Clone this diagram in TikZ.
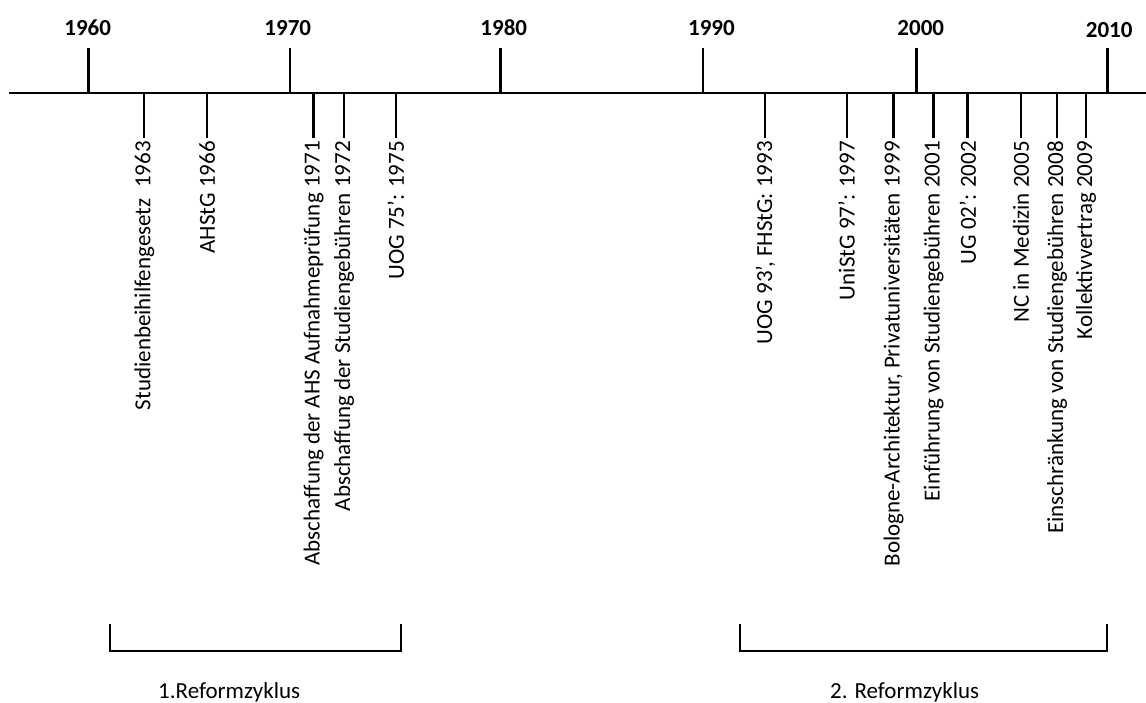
\documentclass[tikz,border=0pt]{standalone}
\usepackage{fontspec}
\setmainfont{Carlito}
\begin{document}
\begin{tikzpicture}[x=1pt,y=-1pt,
  yearlbl/.style={font=\fontsize{23}{27}\selectfont\bfseries, inner sep=0pt},
  evlbl/.style={font=\fontsize{23}{27}\selectfont, inner sep=0pt, rotate=90, anchor=east},
  cyclbl/.style={font=\fontsize{23}{27}\selectfont, inner sep=0pt, anchor=base west},
  axisline/.style={line width=1.6pt},
  bracketA/.style={line width=2pt, line join=miter},
  bracketB/.style={line width=2.7pt, line join=miter}]
\path[use as bounding box, fill=white] (0,0) rectangle (1146,702);

% axis
\coordinate (axL) at (9,93);
\coordinate (axR) at (1146,93);
\draw[axisline] (axL) -- (axR);

% year ticks and labels
\foreach \yr/\xx/\lx/\ly/\lw in {1960/88.5/87.7/28/3,1970/289.5/287.8/28/2,1980/500.5/503.8/28/3,1990/703/711.4/28/2,2000/916.4/920.8/28/2.4,2010/1107.4/1109.2/30/2.4}{
  \coordinate (yt\yr) at (\xx,48);
  \coordinate (yb\yr) at (\xx,93);
  \draw[line width=\lw pt] (yt\yr) -- (yb\yr);
  \node[yearlbl] (yl\yr) at (\lx,\ly) {\yr};
}

% event ticks and labels
\foreach \ev/\xx/\lw/\txt in {
  e1963/144.3/2.2/{Studienbeihilfengesetz\ \ 1963},
  e1966/207.2/2.2/{AHStG 1966},
  e1971/313.7/3/{Abschaffung der AHS Aufnahmeprüfung 1971},
  e1972/344/2.2/{Abschaffung der Studiengebühren 1972},
  e1975/395.8/2.2/{UOG 75’: 1975},
  e1993/765.4/2/{UOG 93’, FHStG: 1993},
  e1997/846.6/2.2/{UniStG 97’: 1997},
  e1999/893.6/2.4/{Bologne-Architektur, Privatuniversitäten 1999},
  e2001/933.6/3/{Einführung von Studiengebühren 2001},
  e2002/967.8/3/{UG 02’: 2002},
  e2005/1021/2.2/{NC in Medizin 2005},
  e2008/1057/2.4/{Einschränkung von Studiengebühren 2008},
  e2009/1086/2.2/{Kollektivvertrag 2009}}{
  \coordinate (\ev top) at (\xx,93);
  \coordinate (\ev bot) at (\xx,138);
  \draw[line width=\lw pt] (\ev top) -- (\ev bot);
  \node[evlbl] (\ev lbl) at (\xx,141) {\txt};
}

% reform cycle brackets
\coordinate (bA1) at (110,624);
\coordinate (bA2) at (110,651);
\coordinate (bA3) at (401,651);
\coordinate (bA4) at (401,624);
\draw[bracketA] (bA1) -- (bA2) -- (bA3) -- (bA4);
\node[cyclbl] (cyc1) at (158,698) {1.Reformzyklus};

\coordinate (bB1) at (740,624);
\coordinate (bB2) at (740,651);
\coordinate (bB3) at (1107,651);
\coordinate (bB4) at (1107,624);
\draw[bracketB] (bB1) -- (bB2) -- (bB3) -- (bB4);
\node[cyclbl] (cyc2) at (830,698) {2. Reformzyklus};
\end{tikzpicture}
\end{document}
